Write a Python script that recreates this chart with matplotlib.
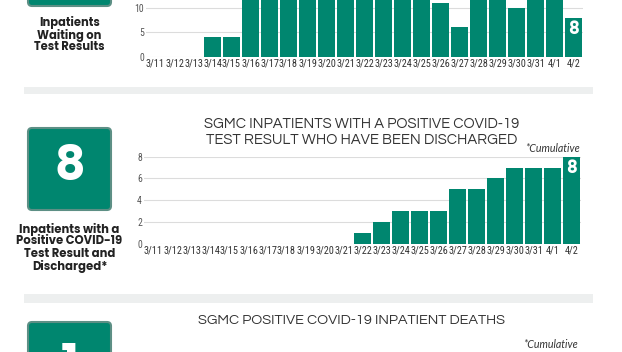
import matplotlib.pyplot as plt
from matplotlib import font_manager
from matplotlib.patches import FancyBboxPatch, Rectangle

dates = ['3/11', '3/12', '3/13', '3/14', '3/15', '3/16', '3/17', '3/18', '3/19',
         '3/20', '3/21', '3/22', '3/23', '3/24', '3/25', '3/26', '3/27', '3/28',
         '3/29', '3/30', '3/31', '4/1', '4/2']
# top panel is cut off at the top of the image; the tall bars are estimates
waiting = [0, 0, 0, 4, 4, 14, 16, 18, 20, 17, 15, 16, 19, 18, 16, 11, 6, 13,
           15, 10, 14, 12, 8]
discharged = [0, 0, 0, 0, 0, 0, 0, 0, 0, 0, 0, 1, 2, 3, 3, 3, 5, 5, 6, 7, 7, 7, 8]
waiting_ticks = [0, 5, 10]
discharged_ticks = [0, 2, 4, 6, 8]
deaths_total = 1

TEAL = '#00866f'
BOX_EDGE = '#5d8f85'
BAND = '#edefef'
TEXT = '#333333'
W, H = 622, 352

FONTS = font_manager.fontManager.ttflist


def weight_of(f):
    w = f.weight
    if isinstance(w, str):
        w = font_manager.weight_dict.get(w, 400)
    return int(w)


def pick(*names, min_weight=0):
    for n in names:
        if any(f.name == n and weight_of(f) >= min_weight for f in FONTS):
            return n
    return 'DejaVu Sans'


NARROW = pick('Roboto Condensed', 'Archivo Narrow', 'PT Sans Narrow',
              'Liberation Sans Narrow', 'Roboto')
THIN = pick('Questrial', 'Didact Gothic', 'Poppins', 'Lato')
BOLD = pick('League Spartan', 'Poppins', 'Lato', min_weight=700)
ITALIC = pick('Lato', 'Roboto', 'Open Sans')

fig = plt.figure(figsize=(W / 100, H / 100), dpi=100)
renderer = fig.canvas.get_renderer()

# background layer in pixel coordinates for boxes, bands and labels
bg = fig.add_axes([0, 0, 1, 1], zorder=0)
bg.set_xlim(0, W)
bg.set_ylim(H, 0)
bg.axis('off')


def fit(txt, width):
    w = txt.get_window_extent(renderer).width
    txt.set_fontsize(txt.get_fontsize() * width / w)
    return txt


def size_for(text, width, **kw):
    t = bg.text(0, 0, text, fontsize=10, **kw)
    size = 10 * width / t.get_window_extent(renderer).width
    t.remove()
    return size


def px_rect(left, top, right, bottom):
    return [left / W, 1 - bottom / H, (right - left) / W, (bottom - top) / H]


def bar_panel(rect, values, ymax, yticks):
    ax = fig.add_axes(rect, zorder=2)
    x = list(range(len(dates)))
    ax.bar(x, values, width=0.88, color=TEAL, zorder=2)
    ax.set_xlim(-0.5, len(dates) - 0.5)
    ax.set_ylim(0, ymax)
    ax.set_yticks(yticks)
    ax.set_xticks(x)
    ax.set_xticklabels(dates, fontsize=7.4, family=NARROW, color=TEXT)
    for lab in ax.get_yticklabels():
        lab.set_family(NARROW)
        lab.set_fontsize(7)
        lab.set_color('#555555')
    ax.tick_params(length=0, pad=1.5)
    ax.grid(axis='y', color='#dcdcdc', lw=0.8, zorder=0)
    for s in ax.spines.values():
        s.set_visible(False)
    ax.patch.set_alpha(0)
    ax.annotate(str(values[-1]), (x[-1], min(values[-1], ymax)),
                xytext=(0, -8.5), textcoords='offset points',
                ha='center', va='center', color='white',
                fontweight='bold', fontsize=12, family=BOLD,
                annotation_clip=False)
    return ax


# top panel (value 0 at y=56.7px, image top is about 11.6 units)
bar_panel(px_rect(146, 0, 583, 56.7), waiting, 56.7 / 4.87, waiting_ticks)
# middle panel
bar_panel(px_rect(144, 156.7, 581, 243.5), discharged, 8, discharged_ticks)

# grey separator bands
for top, bottom in [(87, 94), (294, 303)]:
    bg.add_patch(Rectangle((24, top), 569, bottom - top, color=BAND, lw=0))

# teal number boxes on the left
for top, bottom in [(-80, 6), (128, 210), (322, 420)]:
    bg.add_patch(FancyBboxPatch((28, top), 83, bottom - top,
                                boxstyle='round,pad=0,rounding_size=4',
                                fc=TEAL, ec=BOX_EDGE, lw=1.5))
bg.text(69.5, 169.5, str(discharged[-1]), color='white', fontsize=34,
        fontweight='bold', family=BOLD, ha='center', va='center')
bg.text(69.5, 343, str(deaths_total), color='white', fontsize=34,
        fontweight='bold', family=BOLD, ha='center', va='top')

# labels under the boxes, one text per line
top_lines = ['Inpatients', 'Waiting on', 'Test Results']
mid_lines = ['Inpatients with a', 'Positive COVID-19', 'Test Result and', 'Discharged*']
top_size = size_for('Test Results', 70, family=BOLD, fontweight='bold')
mid_size = size_for('Positive COVID-19', 106, family=BOLD, fontweight='bold')
for lines, ys, size in [(top_lines, [22.7, 35, 47.5], top_size),
                        (mid_lines, [229, 241.5, 254, 266.5], mid_size)]:
    for line, y in zip(lines, ys):
        bg.text(69.5, y, line, ha='center', va='center', fontsize=size,
                fontweight='bold', family=BOLD, color='#222222')

# chart titles
t1 = bg.text(362, 124, 'SGMC INPATIENTS WITH A POSITIVE COVID-19', ha='center',
             va='center', fontsize=10, family=THIN, color=TEXT)
fit(t1, 314)
bg.text(362, 140, 'TEST RESULT WHO HAVE BEEN DISCHARGED', ha='center',
        va='center', fontsize=t1.get_fontsize(), family=THIN, color=TEXT)
t3 = bg.text(351.5, 320, 'SGMC POSITIVE COVID-19 INPATIENT DEATHS', ha='center',
             va='center', fontsize=10, family=THIN, color=TEXT)
fit(t3, 307)
for x, y in [(580, 149), (578, 344)]:
    c = bg.text(x, y, '*Cumulative', ha='right', va='center', fontsize=7,
                fontstyle='italic', family=ITALIC, color=TEXT)
    fit(c, 55)

fig.savefig('out.png', dpi=100)
